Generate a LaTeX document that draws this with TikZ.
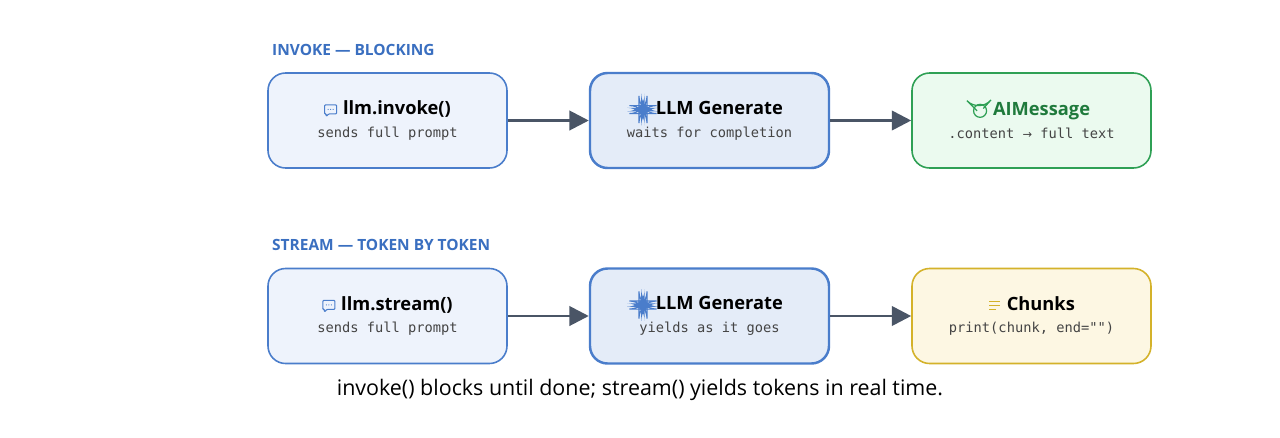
\documentclass[tikz,border=0pt]{standalone}
\usepackage{fontspec}
\setmainfont{Open Sans}
\setmonofont{DejaVu Sans Mono}
\usetikzlibrary{arrows.meta}
\definecolor{hdblue}{HTML}{3A6FC0}
\definecolor{bxblue}{HTML}{4A7DCB}
\definecolor{flblue}{HTML}{EEF3FC}
\definecolor{fldeep}{HTML}{E4ECF8}
\definecolor{bxgreen}{HTML}{2FA055}
\definecolor{flgreen}{HTML}{EBFAEF}
\definecolor{txgreen}{HTML}{1F7A3C}
\definecolor{bxyellow}{HTML}{D4B22A}
\definecolor{flyellow}{HTML}{FDF7E3}
\definecolor{arrowgray}{HTML}{4A5566}
\definecolor{subgray}{HTML}{444444}

\newcommand{\iconbubble}{\tikz[baseline=-0.5ex]{\draw[bxblue,line width=0.6pt,rounded corners=0.5pt] (0,-0.08)--(0,0.1)--(0.24,0.1)--(0.24,-0.08)--(0.08,-0.08)--(0.03,-0.13)--(0.03,-0.08)--cycle;\foreach \i in {0.07,0.12,0.17}{\fill[bxblue] (\i,0.01) circle (0.012);}}}
\newcommand{\iconchip}{\tikz[baseline=-0.5ex]{\draw[bxblue,line width=0.6pt] (-0.08,-0.08) rectangle (0.08,0.08);\fill[bxblue] (-0.035,-0.035) rectangle (0.035,0.035);\foreach \i in {-0.04,0,0.04}{\draw[bxblue,line width=0.5pt] (\i,0.08)--(\i,0.13) (\i,-0.08)--(\i,-0.13) (0.08,\i)--(0.13,\i) (-0.08,\i)--(-0.13,\i);}}}
\newcommand{\iconcheck}{\tikz[baseline=-0.5ex]{\draw[bxgreen,line width=0.7pt] (0,0) circle (0.13);\draw[bxgreen,line width=0.7pt] (-0.06,0)--(-0.015,-0.045)--(0.065,0.045);}}
\newcommand{\iconlines}{\tikz[baseline=-0.5ex]{\draw[bxyellow,line width=1pt] (-0.11,0.08)--(0.11,0.08) (-0.11,0)--(0.11,0) (-0.11,-0.08)--(0.03,-0.08);}}

\tikzset{
  box/.style={draw=bxblue, fill=flblue, line width=0.9pt, rounded corners=10pt,
    minimum width=4.78cm, minimum height=1.9cm, align=center},
  genbox/.style={box, fill=fldeep, line width=1.4pt},
  okbox/.style={box, draw=bxgreen, fill=flgreen},
  chunkbox/.style={box, draw=bxyellow, fill=flyellow},
  flow/.style={-{Triangle[length=11pt,width=11pt]}, arrowgray, line width=1.6pt},
  heading/.style={anchor=west, text=hdblue, font=\bfseries\fontsize{8.8}{10}\selectfont},
  ttl/.style={font=\bfseries\fontsize{10.4}{12}\selectfont},
  sub/.style={font=\ttfamily\fontsize{7.8}{9}\selectfont, text=subgray}
}
\newcommand{\boxtext}[3]{{#1\,\,\fontsize{10.4}{12}\selectfont\bfseries #2}\\[1pt]{\ttfamily\fontsize{7.8}{9}\selectfont\color{subgray}#3}}

\begin{document}
\begin{tikzpicture}
\useasboundingbox[fill=white] (0,0) rectangle (25.6,-8.74);
% invoke row
\node[heading] (h1) at (5.32,-1.0) {INVOKE — BLOCKING};
\node[box] (in1) at (7.75,-2.41) {\boxtext{\iconbubble}{llm.invoke()}{sends full prompt}};
\node[genbox] (gen1) at (14.19,-2.41) {\boxtext{\iconchip}{LLM Generate}{waits for completion}};
\node[okbox] (msg1) at (20.63,-2.41) {\boxtext{\iconcheck}{\color{txgreen}AIMessage}{.content {\fontspec{DejaVu Sans}\fontsize{6.5}{8}\selectfont →} full text}};
\draw[flow] (in1) -- (gen1);
\draw[flow] (gen1) -- (msg1);
% stream row
\node[heading] (h2) at (5.32,-4.9) {STREAM — TOKEN BY TOKEN};
\node[box] (in2) at (7.75,-6.32) {\boxtext{\iconbubble}{llm.stream()}{sends full prompt}};
\node[genbox] (gen2) at (14.19,-6.32) {\boxtext{\iconchip}{LLM Generate}{yields as it goes}};
\node[chunkbox] (chunks2) at (20.63,-6.32) {\boxtext{\iconlines}{Chunks}{print(chunk, end="")}};
\draw[flow] (in2) -- (gen2);
\draw[flow] (gen2) -- (chunks2);
\node[font=\fontsize{12.2}{14}\selectfont] (note) at (12.8,-7.8) {invoke() blocks until done; stream() yields tokens in real time.};
\end{tikzpicture}
\end{document}
